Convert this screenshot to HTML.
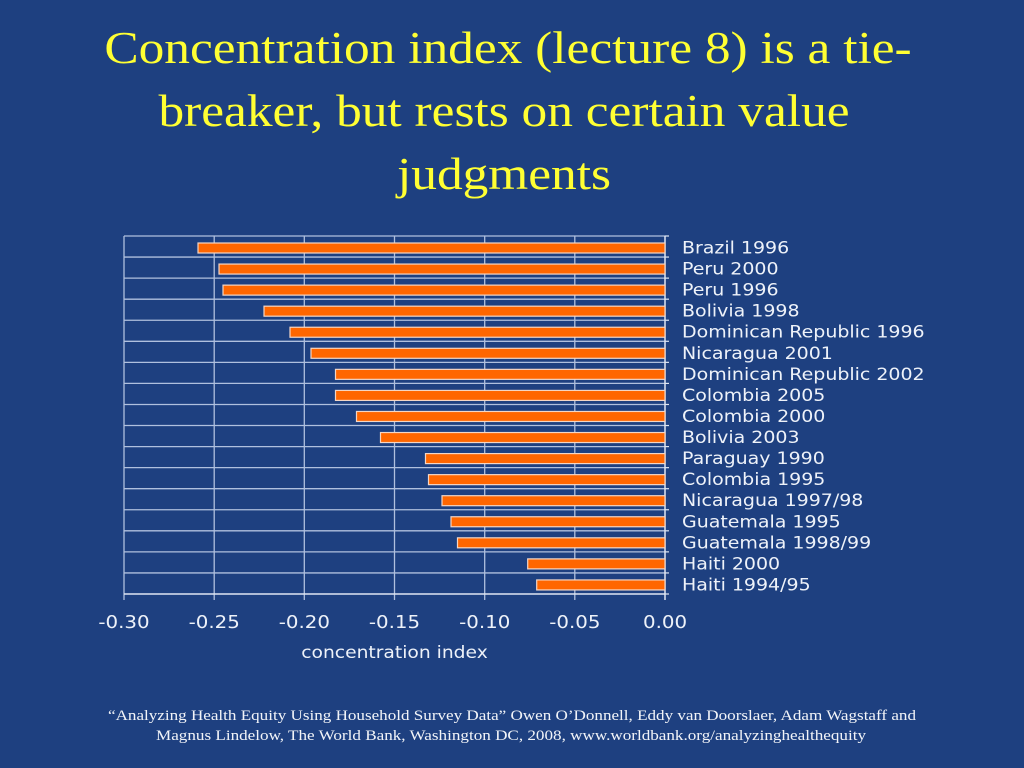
<!DOCTYPE html>
<html>
<head>
<meta charset="utf-8">
<style>
  html, body { margin:0; padding:0; background:#1e4080; }
  svg { display:block; }
</style>
</head>
<body>
<svg width="1024" height="768" viewBox="0 0 1024 768" xmlns="http://www.w3.org/2000/svg">
  <rect x="0" y="0" width="1024" height="768" fill="#1e4080"/>

  <!-- Title -->
  <g font-family="'Liberation Serif', serif" font-size="46" fill="#ffff33" text-anchor="middle">
    <text transform="translate(508,63) scale(1.117,1)">Concentration index (lecture 8) is a tie-</text>
    <text transform="translate(504,126) scale(1.117,1)">breaker, but rests on certain value</text>
    <text transform="translate(504,189) scale(1.117,1)">judgments</text>
  </g>

  <!-- Gridlines -->
  <g stroke="#b0c0de" stroke-width="1.3" fill="none">
    <!-- horizontal -->
    <line x1="124" y1="236" x2="665" y2="236"/>
    <line x1="124" y1="257.06" x2="665" y2="257.06"/>
    <line x1="124" y1="278.12" x2="665" y2="278.12"/>
    <line x1="124" y1="299.18" x2="665" y2="299.18"/>
    <line x1="124" y1="320.24" x2="665" y2="320.24"/>
    <line x1="124" y1="341.29" x2="665" y2="341.29"/>
    <line x1="124" y1="362.35" x2="665" y2="362.35"/>
    <line x1="124" y1="383.41" x2="665" y2="383.41"/>
    <line x1="124" y1="404.47" x2="665" y2="404.47"/>
    <line x1="124" y1="425.53" x2="665" y2="425.53"/>
    <line x1="124" y1="446.59" x2="665" y2="446.59"/>
    <line x1="124" y1="467.65" x2="665" y2="467.65"/>
    <line x1="124" y1="488.71" x2="665" y2="488.71"/>
    <line x1="124" y1="509.76" x2="665" y2="509.76"/>
    <line x1="124" y1="530.82" x2="665" y2="530.82"/>
    <line x1="124" y1="551.88" x2="665" y2="551.88"/>
    <line x1="124" y1="572.94" x2="665" y2="572.94"/>
    <!-- vertical -->
    <line x1="124" y1="236" x2="124" y2="600"/>
    <line x1="214.2" y1="236" x2="214.2" y2="600"/>
    <line x1="304.3" y1="236" x2="304.3" y2="600"/>
    <line x1="394.5" y1="236" x2="394.5" y2="600"/>
    <line x1="484.7" y1="236" x2="484.7" y2="600"/>
    <line x1="574.8" y1="236" x2="574.8" y2="600"/>
  </g>
  <!-- axes -->
  <g stroke="#dfe6f2" stroke-width="1.5">
    <line x1="124" y1="594" x2="665" y2="594"/>
    <line x1="665" y1="236" x2="665" y2="600"/>
  </g>
  <!-- right ticks -->
  <g stroke="#dfe6f2" stroke-width="1.2">
    <line x1="665" y1="236" x2="669" y2="236"/>
    <line x1="665" y1="257.06" x2="669" y2="257.06"/>
    <line x1="665" y1="278.12" x2="669" y2="278.12"/>
    <line x1="665" y1="299.18" x2="669" y2="299.18"/>
    <line x1="665" y1="320.24" x2="669" y2="320.24"/>
    <line x1="665" y1="341.29" x2="669" y2="341.29"/>
    <line x1="665" y1="362.35" x2="669" y2="362.35"/>
    <line x1="665" y1="383.41" x2="669" y2="383.41"/>
    <line x1="665" y1="404.47" x2="669" y2="404.47"/>
    <line x1="665" y1="425.53" x2="669" y2="425.53"/>
    <line x1="665" y1="446.59" x2="669" y2="446.59"/>
    <line x1="665" y1="467.65" x2="669" y2="467.65"/>
    <line x1="665" y1="488.71" x2="669" y2="488.71"/>
    <line x1="665" y1="509.76" x2="669" y2="509.76"/>
    <line x1="665" y1="530.82" x2="669" y2="530.82"/>
    <line x1="665" y1="551.88" x2="669" y2="551.88"/>
    <line x1="665" y1="572.94" x2="669" y2="572.94"/>
    <line x1="665" y1="594" x2="669" y2="594"/>
  </g>

  <!-- Bars -->
  <g fill="#ff6600" stroke="#f3d6c6" stroke-width="1.2">
    <rect x="198" y="243" width="467" height="10"/>
    <rect x="219" y="264.06" width="446" height="10"/>
    <rect x="223" y="285.12" width="442" height="10"/>
    <rect x="264" y="306.18" width="401" height="10"/>
    <rect x="290" y="327.24" width="375" height="10"/>
    <rect x="311" y="348.29" width="354" height="10"/>
    <rect x="335.5" y="369.35" width="329.5" height="10"/>
    <rect x="335.5" y="390.41" width="329.5" height="10"/>
    <rect x="356.5" y="411.47" width="308.5" height="10"/>
    <rect x="380.5" y="432.53" width="284.5" height="10"/>
    <rect x="425.5" y="453.59" width="239.5" height="10"/>
    <rect x="428.5" y="474.65" width="236.5" height="10"/>
    <rect x="442" y="495.71" width="223" height="10"/>
    <rect x="451" y="516.76" width="214" height="10"/>
    <rect x="457.5" y="537.82" width="207.5" height="10"/>
    <rect x="527.7" y="558.88" width="137.3" height="10"/>
    <rect x="536.7" y="579.94" width="128.3" height="10"/>
  </g>

  <!-- Category labels -->
  <g font-family="'DejaVu Sans', 'Liberation Sans', sans-serif" font-size="16.5" fill="#eef2f9">
    <text transform="translate(682,253.5) scale(1.15,1)">Brazil 1996</text>
    <text transform="translate(682,274.56) scale(1.15,1)">Peru 2000</text>
    <text transform="translate(682,295.62) scale(1.15,1)">Peru 1996</text>
    <text transform="translate(682,316.68) scale(1.15,1)">Bolivia 1998</text>
    <text transform="translate(682,337.74) scale(1.15,1)">Dominican Republic 1996</text>
    <text transform="translate(682,358.79) scale(1.15,1)">Nicaragua 2001</text>
    <text transform="translate(682,379.85) scale(1.15,1)">Dominican Republic 2002</text>
    <text transform="translate(682,400.91) scale(1.15,1)">Colombia 2005</text>
    <text transform="translate(682,421.97) scale(1.15,1)">Colombia 2000</text>
    <text transform="translate(682,443.03) scale(1.15,1)">Bolivia 2003</text>
    <text transform="translate(682,464.09) scale(1.15,1)">Paraguay 1990</text>
    <text transform="translate(682,485.15) scale(1.15,1)">Colombia 1995</text>
    <text transform="translate(682,506.21) scale(1.15,1)">Nicaragua 1997/98</text>
    <text transform="translate(682,527.26) scale(1.15,1)">Guatemala 1995</text>
    <text transform="translate(682,548.32) scale(1.15,1)">Guatemala 1998/99</text>
    <text transform="translate(682,569.38) scale(1.15,1)">Haiti 2000</text>
    <text transform="translate(682,590.44) scale(1.15,1)">Haiti 1994/95</text>
  </g>

  <!-- X tick labels -->
  <g font-family="'DejaVu Sans', 'Liberation Sans', sans-serif" font-size="18" fill="#eef2f9" text-anchor="middle">
    <text transform="translate(124,628) scale(1.1,1)">-0.30</text>
    <text transform="translate(214.2,628) scale(1.1,1)">-0.25</text>
    <text transform="translate(304.3,628) scale(1.1,1)">-0.20</text>
    <text transform="translate(394.5,628) scale(1.1,1)">-0.15</text>
    <text transform="translate(484.7,628) scale(1.1,1)">-0.10</text>
    <text transform="translate(574.8,628) scale(1.1,1)">-0.05</text>
    <text transform="translate(665,628) scale(1.1,1)">0.00</text>
  </g>
  <text transform="translate(394.5,658) scale(1.1,1)" font-family="'DejaVu Sans', 'Liberation Sans', sans-serif" font-size="17" fill="#eef2f9" text-anchor="middle">concentration index</text>

  <!-- Footer -->
  <g font-family="'Liberation Serif', serif" font-size="15" fill="#f2f4f8">
    <text x="108" y="720" textLength="808" lengthAdjust="spacingAndGlyphs">“Analyzing Health Equity Using Household Survey Data” Owen O’Donnell, Eddy van Doorslaer, Adam Wagstaff and</text>
    <text x="156" y="740" textLength="710" lengthAdjust="spacingAndGlyphs">Magnus Lindelow, The World Bank, Washington DC, 2008, www.worldbank.org/analyzinghealthequity</text>
  </g>
</svg>
</body>
</html>
